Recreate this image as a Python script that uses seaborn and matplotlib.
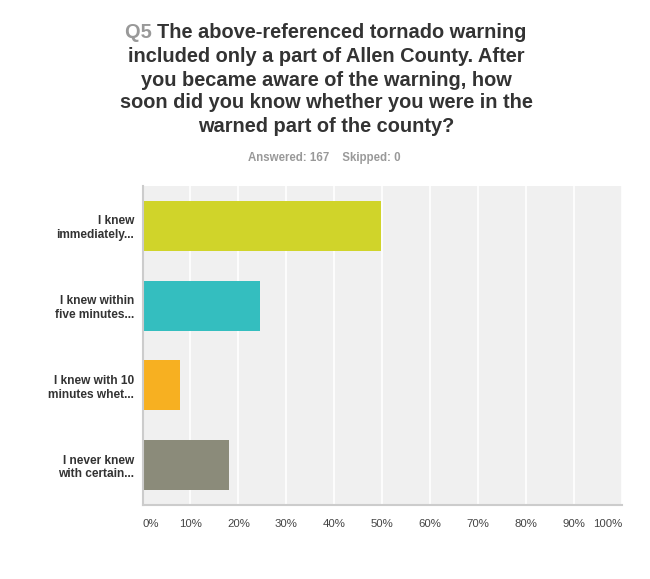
import seaborn as sns
import matplotlib.pyplot as plt
import pandas as pd

categories = ["I knew\nimmediately...", "I knew within\nfive minutes...",
              "I knew with 10\nminutes whet...", "I never knew\nwith certain..."]
percents = [49.70, 24.55, 7.78, 17.96]
colors = ["#d0d42a", "#34bebf", "#f7b021", "#8b8b7a"]
ticks = [0, 10, 20, 30, 40, 50, 60, 70, 80, 90, 100]
tick_labels = [f"{t}%" for t in ticks]

title_lines = ["The above-referenced tornado warning",
               "included only a part of Allen County. After",
               "you became aware of the warning, how",
               "soon did you know whether you were in the",
               "warned part of the county?"]
subtitle = "Answered: 167    Skipped: 0"

df = pd.DataFrame({"answer": categories, "percent": percents})

sns.set_theme(style="white")
plt.rcParams['font.family'] = ['Liberation Sans', 'DejaVu Sans']

fig = plt.figure(figsize=(6.5, 5.79), dpi=100)
ax = fig.add_axes([142.5 / 650, 74 / 579, 479.5 / 650, 319 / 579])
ax.set_facecolor("#f0f0f0")

sns.barplot(data=df, y="answer", x="percent", hue="answer", palette=colors,
            orient="h", width=0.625, legend=False, saturation=1,
            linewidth=0, ax=ax)

ax.set_xlim(0, 100)
ax.set_xticks(ticks)
ax.set_xticklabels(tick_labels, fontsize=8.2, color="#444444")
for i, lab in enumerate(ax.get_xticklabels()):
    if i == 0:
        lab.set_ha("left")
    elif i == len(ticks) - 1:
        lab.set_ha("right")
ax.tick_params(axis="x", length=0, pad=10)
ax.tick_params(axis="y", length=0, pad=6)
for lab in ax.get_yticklabels():
    lab.set_fontsize(8.6)
    lab.set_fontweight("bold")
    lab.set_color("#333333")
    lab.set_linespacing(1.2)
ax.set_xlabel("")
ax.set_ylabel("")
ax.grid(axis="x", color="white", linewidth=1.2)
ax.set_axisbelow(True)
for s in ["top", "right"]:
    ax.spines[s].set_visible(False)
ax.spines["left"].set_color("#cccccc")
ax.spines["bottom"].set_color("#cccccc")
ax.spines["left"].set_linewidth(1.5)
ax.spines["bottom"].set_linewidth(1.5)

# title, first line has grey "Q5" prefix
cx = 326 / 650
ys = [32, 56, 80, 103, 127]
fs = 14.4
fig.canvas.draw()
r = fig.canvas.get_renderer()
q = fig.text(0, 1 - ys[0] / 579, "Q5 ", fontsize=fs, fontweight="bold",
             color="#999999", ha="left", va="center")
t0 = fig.text(0, 1 - ys[0] / 579, title_lines[0], fontsize=fs, fontweight="bold",
              color="#333333", ha="left", va="center")
wq = q.get_window_extent(r).width / 650
wt = t0.get_window_extent(r).width / 650
start = cx - (wq + wt) / 2
q.set_x(start)
t0.set_x(start + wq)
for line, y in zip(title_lines[1:], ys[1:]):
    fig.text(cx, 1 - y / 579, line, fontsize=fs, fontweight="bold",
             color="#333333", ha="center", va="center")
fig.text(324 / 650, 1 - 158 / 579, subtitle, fontsize=8.3, fontweight="bold",
         color="#999999", ha="center", va="center")

plt.savefig("out.png", dpi=100)
